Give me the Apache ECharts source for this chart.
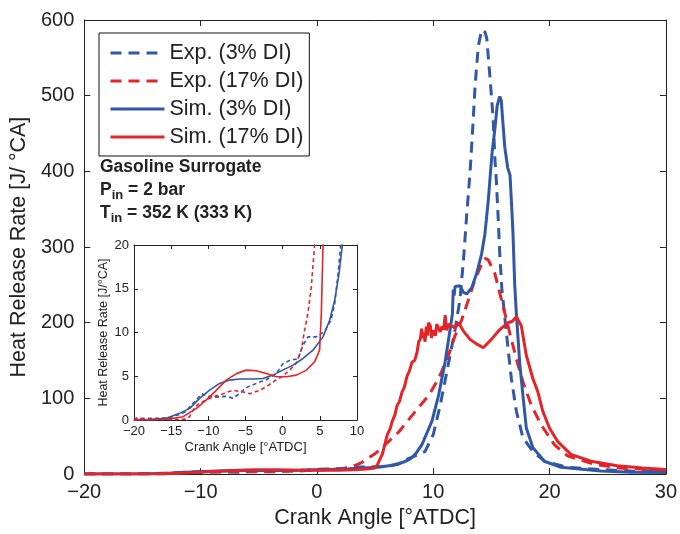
<!DOCTYPE html>
<html>
<head>
<meta charset="utf-8">
<script src="https://cdn.jsdelivr.net/npm/echarts@6/dist/echarts.min.js"></script>
<style>
  html, body { margin: 0; padding: 0; background: #fff; }
  #chart { width: 680px; height: 534px; }
</style>
</head>
<body>
<div id="chart"></div>
<script>
// [crank angle, heat release rate]
const exp3 = [[-20,0],[-19,0.2],[-17,0.2],[-15,0.3],[-14,0.6],[-13,1.0],[-12.2,1.8],[-11.6,2.3],[-10.9,3.0],[-10.3,2.8],
  [-9.4,2.6],[-7.6,2.7],[-6.7,2.5],[-5.8,3.0],[-4.9,3.7],[-3.5,4.2],[-2.2,4.6],[-0.85,5.3],[0,6.4],[0.9,6.8],[2.1,7.0],
  [2.7,8.5],[3.4,9.5],[4.5,9.5],[5.6,10.1],[6.5,11.4],[7.0,13.3],[7.45,16.7],[7.8,20],[8.3,23],[9.3,30],[10.0,52],
  [10.6,91],[11.17,135],[11.88,191],[12.3,231],[12.6,283],[12.88,343],[13.17,400],[13.39,456],[13.6,513],[13.87,565],
  [14.16,587],[14.45,584],[14.6,576],[14.73,552],[14.87,526],[15.0,500],[15.15,470],[15.3,417],[15.43,387],[15.58,339],
  [15.72,291],[15.9,245],[16.2,200],[16.45,163],[16.72,126],[17.15,83],[17.71,48],[18.57,30],[19.56,17],[21.55,9],
  [24.4,6],[27,4],[30,3]];

const exp17 = [[-20,0],[-19.5,0.3],[-19,0.1],[-18,0],[-13,0.1],[-12.5,0.4],[-11.8,1.5],[-11.2,1.9],[-10.3,2.3],[-9.15,2.7],
  [-8,3.0],[-6.7,3.4],[-5.3,3.2],[-4.4,3.0],[-3.1,3.4],[-2.2,3.8],[-0.85,4.6],[-0.18,4.9],[0.94,5.7],[1.84,6.5],[2.5,8.0],
  [2.96,10.3],[3.4,12.2],[3.85,15.2],[4.3,20],[5.0,27],[5.62,35],[7.05,56],[8.47,83],[9.61,104],[10.46,126],[11.31,157],
  [11.88,183],[12.45,204],[13.02,230],[13.59,257],[14.1,275],[14.44,285],[14.73,283],[15.3,265],[15.72,239],[16.15,213],
  [16.57,187],[17.15,152],[17.71,122],[18.43,91],[19.28,65],[20.41,39],[21.55,24],[23.83,13],[26,8],[30,5]];

const sim3 = [[-20,0],[-18,0.05],[-15.65,0.2],[-13.86,0.76],[-12.5,1.33],[-11.17,2.47],[-9.82,3.42],[-8.48,4.18],[-7.13,4.56],
  [-5.78,4.68],[-4,4.68],[-2.65,4.75],[-1.3,5.13],[0,5.7],[1.4,6.27],[2.74,7.03],[4.08,7.98],[5.43,9.5],[6.32,11.4],
  [7.0,13.7],[7.58,16.7],[8.03,20],[8.5,27],[9.03,39],[9.89,70],[10.46,104],[11.02,148],[11.45,191],[11.65,212],
  [11.72,244],[11.8,236],[11.88,248],[12.05,250],[12.3,249],[12.6,240],[12.88,238],[13.3,246],[13.73,265],[14.16,291],
  [14.44,317],[14.73,361],[14.95,404],[15.07,426],[15.3,456],[15.5,487],[15.72,499],[15.85,494],[15.95,472],[16.15,432],
  [16.4,405],[16.6,395],[16.75,352],[16.86,317],[17.0,252],[17.15,211],[17.43,148],[17.71,104],[18.0,61],[18.57,35],
  [19.56,17],[20.98,9],[24.4,4],[27,2.5],[30,2]];

const sim17 = [[-20,0],[-15.6,0.08],[-13.4,0.38],[-11.6,1.33],[-10.3,2.28],[-8.9,3.42],[-7.6,4.56],[-6.2,5.3],[-4.9,5.7],
  [-3.55,5.63],[-2.2,5.32],[-0.85,4.94],[0.5,4.94],[1.85,5.13],[3.2,5.7],[4.3,6.65],[4.97,7.98],[5.2,12.2],[5.43,20],
  [5.62,26],[6.05,52],[6.3,60],[6.48,70],[6.7,78],[6.9,91],[7.1,96],[7.33,109],[7.5,114],[7.76,130],[7.95,136],[8.18,148],
  [8.4,150],[8.61,161],[8.75,175],[8.89,178],[9.0,192],[9.1,180],[9.18,187],[9.3,175],[9.4,195],[9.5,183],[9.6,200],
  [9.75,196],[9.85,180],[10.0,190],[10.2,183],[10.3,198],[10.46,200],[10.6,188],[10.75,195],[10.89,191],[11.03,210],
  [11.15,190],[11.3,198],[11.5,196],[11.7,195],[11.88,193],[12.0,195],[12.17,200],[12.6,189],[13.16,178],[13.73,172],
  [14.3,167],[15.0,178],[15.72,191],[16.43,200],[16.8,202],[17.15,208],[17.57,196],[18.0,157],[18.57,126],[18.99,109],
  [19.42,83],[19.99,61],[20.7,43],[21.84,26],[23.55,17],[25.82,11],[28,8],[30,6]];

const seriesNames = ['Exp. (3% DI)', 'Exp. (17% DI)', 'Sim. (3% DI)', 'Sim. (17% DI)'];
const seriesData = [exp3, exp17, sim3, sim17];
const seriesColors = ['#3157a7', '#e52428', '#3157a7', '#e52428'];
const seriesDashed = [true, true, false, false];

const mainXTicks = [-20, 30, 10];   // min, max, interval
const mainYTicks = [0, 600, 100];
const insetXTicks = [-20, 10, 5];
const insetYTicks = [0, 20, 5];

const FONT = 'Liberation Sans, Arial, Helvetica, sans-serif';
const INK = '#222';
const minus = v => String(v).replace('-', '\u2212');

function makeAxis(grid, ticks, opts) {
  return Object.assign({
    type: 'value',
    gridIndex: grid,
    min: ticks[0], max: ticks[1], interval: ticks[2],
    axisLine: { show: true, onZero: false, lineStyle: { color: INK, width: 1 } },
    axisTick: { show: true, inside: true, length: 6, lineStyle: { color: INK } },
    splitLine: { show: false },
    axisLabel: { show: false }
  }, opts);
}

const mychart = echarts.init(document.getElementById('chart'));

const series = [];
// main plot
seriesData.forEach((d, i) => {
  series.push({
    name: seriesNames[i], type: 'line', xAxisIndex: 0, yAxisIndex: 0,
    data: d, showSymbol: false, symbol: 'none', clip: true,
    lineStyle: { color: seriesColors[i], width: 3, type: seriesDashed[i] ? [11, 7] : 'solid' },
    itemStyle: { color: seriesColors[i] }
  });
});
// inset
seriesData.forEach((d, i) => {
  series.push({
    name: seriesNames[i], type: 'line', xAxisIndex: 2, yAxisIndex: 2,
    data: d, showSymbol: false, symbol: 'none', clip: true, z: 5,
    lineStyle: { color: seriesColors[i], width: 1.6, type: seriesDashed[i] ? [4, 3] : 'solid' },
    itemStyle: { color: seriesColors[i] }
  });
});

const option = {
  animation: false,
  backgroundColor: '#fff',
  textStyle: { fontFamily: FONT },
  title: {
    left: 95, top: 151,
    text: '{b|Gasoline Surrogate}\n{b|P}{s|in}{b| = 2 bar}\n{b|T}{s|in}{b| = 352 K (333 K)}',
    textStyle: {
      rich: {
        b: { fontFamily: FONT, fontWeight: 'bold', fontSize: 17.5, lineHeight: 23, color: INK },
        s: { fontFamily: FONT, fontWeight: 'bold', fontSize: 13, lineHeight: 23, color: INK, padding: [9, 0, 0, 0] }
      }
    }
  },
  legend: {
    orient: 'vertical',
    left: 99, top: 33,
    padding: [9, 6, 8, 10],
    data: seriesNames,
    itemWidth: 54, itemHeight: 14, itemGap: 6,
    borderColor: '#111', borderWidth: 1, backgroundColor: '#fff',
    lineStyle: { width: 3 },
    itemStyle: { opacity: 0 },
    textStyle: { fontFamily: FONT, fontSize: 21.5, color: INK },
    selectedMode: false
  },
  grid: [
    { left: 83, right: 11, top: 20, bottom: 54 },
    { left: 134, top: 245, width: 223, height: 175, show: true, backgroundColor: '#fff', borderWidth: 0, z: 3 }
  ],
  xAxis: [
    makeAxis(0, mainXTicks, {
      position: 'bottom',
      axisLabel: { show: true, fontSize: 20, color: INK, margin: 8, fontFamily: FONT, formatter: minus },
      name: 'Crank Angle [°ATDC]', nameLocation: 'middle', nameGap: 31,
      nameTextStyle: { fontSize: 21.5, color: INK, fontFamily: FONT }
    }),
    makeAxis(0, mainXTicks, { position: 'top' }),
    makeAxis(1, insetXTicks, {
      position: 'bottom', z: 4,
      axisTick: { show: true, inside: true, length: 4, lineStyle: { color: INK } },
      axisLabel: { show: true, fontSize: 13, color: INK, margin: 5, fontFamily: FONT, formatter: minus },
      name: 'Crank Angle [°ATDC]', nameLocation: 'middle', nameGap: 21,
      nameTextStyle: { fontSize: 13, color: INK, fontFamily: FONT }
    }),
    makeAxis(1, insetXTicks, { position: 'top', z: 4,
      axisTick: { show: true, inside: true, length: 4, lineStyle: { color: INK } } })
  ],
  yAxis: [
    makeAxis(0, mainYTicks, {
      position: 'left',
      axisLabel: { show: true, fontSize: 20, color: INK, margin: 10, fontFamily: FONT },
      name: 'Heat Release Rate [J/ °CA]', nameLocation: 'middle', nameGap: 50,
      nameTextStyle: { fontSize: 21.5, color: INK, fontFamily: FONT }
    }),
    makeAxis(0, mainYTicks, { position: 'right' }),
    makeAxis(1, insetYTicks, {
      position: 'left', z: 4,
      axisTick: { show: true, inside: true, length: 4, lineStyle: { color: INK } },
      axisLabel: { show: true, fontSize: 13, color: INK, margin: 5, fontFamily: FONT },
      name: 'Heat Release Rate [J/°CA]', nameLocation: 'middle', nameGap: 24,
      nameTextStyle: { fontSize: 12.5, color: INK, fontFamily: FONT }
    }),
    makeAxis(1, insetYTicks, { position: 'right', z: 4,
      axisTick: { show: true, inside: true, length: 4, lineStyle: { color: INK } } })
  ],
  series: series
};

mychart.setOption(option, true);
</script>
</body>
</html>
